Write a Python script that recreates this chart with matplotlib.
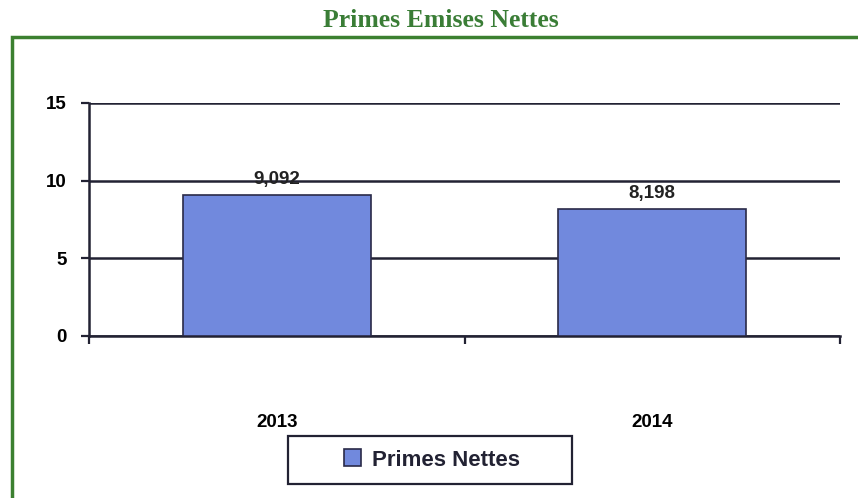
import matplotlib.pyplot as plt
from matplotlib.patches import Rectangle

years = ["2013", "2014"]
primes = [9.092, 8.198]
labels = ["9,092", "8,198"]
yticks = [0, 5, 10, 15]

plt.rcParams["font.family"] = ["Liberation Sans", "DejaVu Sans"]

fig = plt.figure(figsize=(8.58, 4.98), dpi=100)
W, H = 858, 498

# green frame around the chart area
fig.patches.append(Rectangle((12 / W, -0.2), 1.2, 1.2 - 37 / H, transform=fig.transFigure,
                             fill=False, edgecolor="#3c8030", linewidth=2.5))
# legend box
fig.patches.append(Rectangle((288 / W, 1 - 484 / H), 284 / W, 48 / H, transform=fig.transFigure,
                             fill=True, facecolor="white", edgecolor="#222233", linewidth=1.6))

fig.text(441 / W, 1 - 20 / H, "Primes Emises Nettes", ha="center", va="center",
         family="Liberation Serif", fontweight="bold", fontsize=18.5, color="#3a7d36")

ax = fig.add_axes([89 / W, 1 - 336 / H, (840 - 89) / W, (336 - 103) / H])
x = list(range(len(years)))
bars = ax.bar(x, primes, width=0.5, color="#7189dd", edgecolor="#2a2a48",
              linewidth=1.2, label="Primes Nettes", zorder=3)

for xi, v, t in zip(x, primes, labels):
    ax.annotate(t, (xi, v), xytext=(0, 5), textcoords="offset points",
                ha="center", va="bottom", fontsize=13.5, fontweight="bold", color="#222222")

ax.set_xlim(-0.5, 1.5)
ax.set_ylim(0, 15)
ax.set_yticks(yticks)
ax.set_yticklabels([str(t) for t in yticks], fontsize=13.5, fontweight="bold")
ax.grid(axis="y", color="#222233", linewidth=1.8, zorder=1)
ax.set_xticks(x)
ax.set_xticklabels(years, fontsize=13.5, fontweight="bold")
ax.tick_params(axis="x", which="major", length=0, pad=56)
ax.set_xticks([-0.5, 0.5, 1.5], minor=True)
ax.tick_params(axis="x", which="minor", length=6, width=1.6, color="#222233")
ax.tick_params(axis="y", length=6, width=1.6, color="#222233", pad=10)
for s in ["top", "right"]:
    ax.spines[s].set_visible(False)
ax.spines["left"].set_color("#222233")
ax.spines["left"].set_linewidth(1.8)
ax.spines["bottom"].set_color("#222233")
ax.spines["bottom"].set_linewidth(1.8)

leg = fig.legend(loc="center", bbox_to_anchor=(432 / W, 1 - 460 / H), frameon=False,
                 fontsize=16, handlelength=0.8, handleheight=0.8, handletextpad=0.5)
for t in leg.get_texts():
    t.set_fontweight("bold")
    t.set_color("#222233")

fig.savefig("out.png", dpi=100)
